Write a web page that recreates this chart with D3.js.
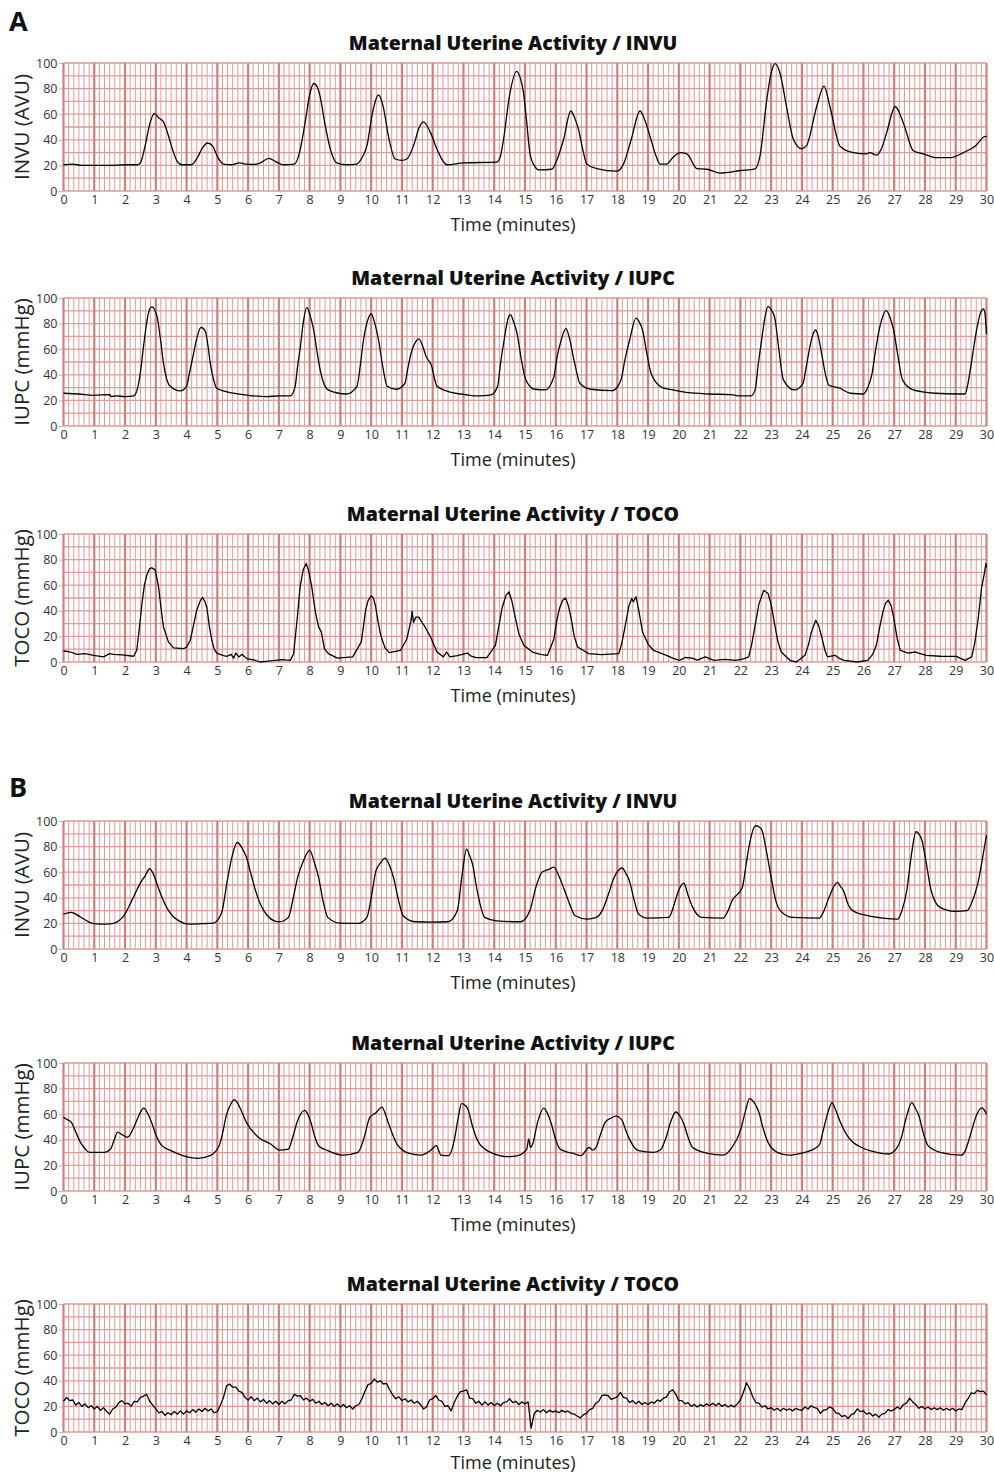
<!DOCTYPE html>
<html>
<head>
<meta charset="utf-8">
<script src="https://cdn.jsdelivr.net/npm/d3@7"></script>
<style>
  body { margin: 0; background: #fff; }
  text { font-family: "Open Sans", "Noto Sans", sans-serif; }
</style>
</head>
<body>
<script>
// ---- data (minutes, value) ----

const invuA = [[0,20.5],[0.3,21],[0.6,20],[1,20],[1.5,20],[2,20.5],[2.4,20.5],[2.5,22],[2.65,35],[2.8,52],[2.95,60.5],[3.1,57],[3.25,54],[3.4,44],[3.55,32],[3.7,23],[3.85,20.5],[4.15,20.5],[4.35,26],[4.5,33],[4.68,37.5],[4.85,35],[5.0,27],[5.2,21],[5.45,20.5],[5.72,22],[5.95,21],[6.18,20.7],[6.4,22],[6.67,25.5],[6.9,23],[7.15,20.5],[7.5,21],[7.65,28],[7.85,53],[8.0,75],[8.13,84],[8.25,81],[8.34,74],[8.5,52],[8.67,33],[8.88,22],[9.2,20.5],[9.53,21],[9.7,26],[9.86,35],[10.05,62],[10.24,75],[10.4,65],[10.56,43],[10.78,25],[11.0,24],[11.16,25],[11.4,37],[11.55,49],[11.7,54],[11.92,46],[12.15,32],[12.46,20.5],[13.0,22],[14.08,22.5],[14.2,27],[14.3,40],[14.5,75],[14.73,93.5],[14.85,88],[14.95,77],[15.05,55],[15.17,28],[15.3,20],[15.44,16.5],[15.87,17],[16.05,25],[16.25,40],[16.49,62.5],[16.6,58],[16.74,48],[16.9,30],[17.01,21],[17.33,17.5],[17.98,15.5],[18.2,21],[18.45,40],[18.74,62.5],[18.9,55],[19.06,43],[19.25,28],[19.39,21],[19.6,21],[19.8,26],[20.04,30],[20.26,29],[20.59,17.5],[20.91,17],[21.35,14],[22.0,16],[22.48,17.3],[22.64,27.6],[22.86,71.6],[23.0,92],[23.13,99.5],[23.29,92],[23.5,66],[23.72,40.6],[23.99,33],[24.15,35.4],[24.48,66],[24.72,82],[24.91,66],[25.24,35],[25.67,30],[26.11,29],[26.2,30],[26.43,28],[26.6,34],[26.76,46],[27.03,66],[27.3,53],[27.62,31.5],[27.95,29],[28.38,26],[28.82,26],[29.25,30],[29.63,35],[29.96,42.6],[30,42]];

const iupcA = [[0,25.6],[0.5,25],[0.98,24],[1.5,24.5],[1.55,23],[1.7,23.5],[2.0,23],[2.28,23.5],[2.39,28],[2.5,42],[2.6,62],[2.75,87],[2.87,93],[3.04,85.6],[3.15,68],[3.25,49],[3.35,37],[3.47,31],[3.79,27.4],[4.0,31],[4.1,42],[4.23,57],[4.35,70],[4.47,77],[4.61,74],[4.7,62],[4.77,49],[4.88,36],[4.98,29.5],[5.53,25.6],[6.0,24],[6.6,23],[7.0,23.5],[7.37,23.5],[7.53,31],[7.6,45],[7.7,62],[7.8,82],[7.91,92.7],[8.02,86],[8.13,75],[8.24,58],[8.34,44],[8.45,34],[8.62,28],[9.19,25],[9.54,31],[9.65,48],[9.75,67],[9.88,82],[10.0,87.7],[10.12,80],[10.24,67],[10.38,46],[10.52,31],[10.81,28.7],[11.09,33],[11.2,46],[11.3,57],[11.45,66],[11.55,68],[11.68,62],[11.79,54],[11.97,46.5],[12.05,38],[12.14,31],[12.42,27.7],[13.13,24.3],[13.5,23.5],[13.9,24.3],[14.11,31],[14.2,48],[14.32,67],[14.45,84],[14.53,87],[14.62,82],[14.74,72.6],[14.88,52],[15.03,36],[15.31,28.7],[15.66,28.2],[15.94,38.6],[16.05,55],[16.15,64.8],[16.33,76],[16.45,68],[16.57,54],[16.68,42],[16.78,33.4],[17.14,28.7],[17.84,27.7],[18.12,36],[18.25,52],[18.4,67],[18.61,84.3],[18.72,81],[18.82,75],[18.95,58],[19.1,41],[19.46,30],[19.81,28.2],[20.3,26],[21.0,25],[21.7,24.5],[22.0,23.5],[22.34,23.5],[22.48,28.2],[22.58,48],[22.69,67],[22.8,85],[22.9,93.5],[23.0,91],[23.12,84.3],[23.25,60],[23.4,36],[23.75,28.2],[24.03,33],[24.14,46],[24.24,59.5],[24.35,71],[24.45,75],[24.55,68],[24.66,54],[24.77,40],[24.87,32],[25.23,29.5],[25.58,25.6],[26.0,25],[26.14,30],[26.28,41],[26.4,60],[26.49,72.6],[26.62,85],[26.74,90.3],[26.86,85],[26.98,75],[27.12,55],[27.27,36],[27.62,28.2],[28.32,25.6],[29.1,25],[29.3,25],[29.38,31],[29.5,48],[29.66,72.6],[29.8,88],[29.9,91.5],[29.95,88],[30,72]];

const tocoA = [[0,8.6],[0.2,8],[0.44,6],[0.7,6.5],[0.98,5.2],[1.3,4],[1.5,6.5],[1.63,6],[1.9,5.5],[2.28,4.5],[2.38,9],[2.46,25],[2.55,45.7],[2.63,60],[2.71,68],[2.8,73],[2.87,73.5],[2.98,72],[3.09,58.7],[3.17,42],[3.25,27.4],[3.41,15.7],[3.58,11],[3.9,10.4],[4.0,11.5],[4.12,17],[4.22,28],[4.33,40.5],[4.45,48],[4.52,50.4],[4.6,47],[4.66,42.6],[4.74,28],[4.82,17],[4.9,10],[4.98,7],[5.2,5],[5.31,4.4],[5.45,6],[5.53,3],[5.6,7],[5.7,4],[5.8,6],[5.96,2.6],[6.2,1.5],[6.39,0],[6.6,0.5],[6.82,1],[7.1,1.8],[7.37,1.3],[7.48,6.5],[7.6,35],[7.69,58.7],[7.79,72],[7.89,77],[7.97,71],[8.07,58.7],[8.18,40],[8.29,27.4],[8.38,23.5],[8.48,10.4],[8.61,6.5],[8.9,3],[9.4,4],[9.68,15.7],[9.82,40.5],[9.9,48],[10.0,51.7],[10.07,50],[10.14,44],[10.22,32],[10.31,21],[10.45,11],[10.59,7.3],[10.95,9],[11.16,18],[11.3,33],[11.33,39.7],[11.38,31],[11.45,35],[11.55,35],[11.65,31],[11.72,28.7],[11.93,19.6],[12.14,7.8],[12.35,4],[12.45,7.8],[12.56,4],[12.8,5],[13.13,7],[13.25,4.5],[13.41,3.4],[13.76,3.4],[14.04,13],[14.15,28],[14.25,41.8],[14.38,52],[14.48,54.8],[14.57,48],[14.67,36.5],[14.8,22],[14.96,13],[15.24,7.8],[15.5,6],[15.73,5.2],[15.94,18],[16.03,32],[16.12,41.8],[16.22,48],[16.32,50],[16.41,44],[16.5,34],[16.6,20],[16.71,11.7],[17.07,6.5],[17.49,5.7],[18.05,6.5],[18.15,15],[18.26,28.7],[18.38,44],[18.47,49.6],[18.52,47],[18.61,51],[18.7,40],[18.82,23.5],[19.0,14],[19.18,9],[19.6,5.2],[19.8,3],[20.02,1.3],[20.2,3.5],[20.44,3],[20.6,1.5],[20.86,4],[21.14,1.3],[21.5,2],[21.85,1.3],[22.1,2.5],[22.27,4],[22.37,14],[22.48,28.7],[22.6,45],[22.76,56],[22.9,53.5],[23.0,45],[23.12,28.7],[23.22,16],[23.33,7.8],[23.61,1.3],[23.82,0],[24.1,5.2],[24.22,14],[24.31,23.5],[24.45,32.6],[24.55,28],[24.66,18],[24.75,9],[24.83,4],[25.08,5.2],[25.2,3],[25.37,1.3],[25.79,0],[26.14,1.3],[26.3,6],[26.42,13],[26.52,26],[26.63,39],[26.72,46],[26.81,48.3],[26.9,44],[26.98,35],[27.1,18],[27.2,9],[27.45,7],[27.69,7.8],[28.04,5.2],[28.5,4.5],[29.02,4.4],[29.3,1.3],[29.52,4],[29.62,15],[29.73,34],[29.84,58],[29.94,70.5],[29.98,77],[30,74]];

const invuB = [[0,27.3],[0.25,28.6],[0.55,25],[0.94,20],[1.2,19.4],[1.53,19.6],[1.92,24.7],[2.22,37.8],[2.4,47],[2.51,52],[2.65,57],[2.8,62.7],[2.94,57.5],[3.05,50],[3.2,40.4],[3.49,27.3],[3.75,22],[4.08,19.4],[4.5,19.8],[4.86,20.2],[5.05,24],[5.16,30],[5.3,50],[5.45,69.3],[5.65,83.2],[5.8,79],[5.94,72],[6.1,58],[6.24,45.7],[6.4,35],[6.63,26],[6.85,22],[7.02,21.3],[7.31,24.7],[7.45,38],[7.61,56],[7.8,69],[8.0,77],[8.15,68],[8.29,56],[8.45,36],[8.59,24.7],[8.98,20.2],[9.57,20],[9.86,24.7],[10.0,40],[10.16,61.4],[10.3,67],[10.45,71],[10.6,65],[10.75,53.5],[10.9,37],[11.04,26],[11.43,21.3],[12.0,21],[12.51,21.3],[12.8,30],[12.95,57],[13.1,78],[13.2,73],[13.29,66.7],[13.45,45],[13.69,24.7],[14.08,22],[14.86,21.3],[15.16,30],[15.35,48],[15.55,60],[15.75,62],[15.94,64],[16.1,57],[16.33,43],[16.5,32],[16.63,26],[17.02,23.4],[17.3,24.5],[17.51,30],[17.7,42],[17.9,56],[18.16,63.3],[18.28,59],[18.39,53.5],[18.55,38],[18.69,27.3],[18.98,24.1],[19.67,24.7],[19.85,35],[19.96,43.6],[20.16,51.4],[20.3,42],[20.45,32.5],[20.75,24.7],[21.43,24.1],[21.6,30],[21.73,37.8],[22.06,47.8],[22.2,68],[22.3,82.4],[22.5,96.3],[22.6,95.5],[22.7,93],[22.85,76],[23.0,56],[23.15,38],[23.3,30],[23.69,24.7],[24.57,24.1],[24.72,30],[24.86,39],[25.16,52],[25.25,49],[25.35,45.7],[25.5,35],[25.65,30],[26.14,26],[26.63,24.1],[27.12,23.4],[27.25,30],[27.41,45.7],[27.55,72],[27.71,91.6],[27.8,90],[27.9,85],[28.05,66],[28.2,45.7],[28.49,32.5],[28.98,29.4],[29.37,30],[29.55,38],[29.76,56],[29.9,75],[30,89]];

const iupcB = [[0,57.7],[0.1,56],[0.25,53.8],[0.4,46],[0.55,38],[0.7,33],[0.84,30.2],[1.33,30.2],[1.53,32.8],[1.65,40],[1.76,46],[1.9,44],[2.08,42],[2.31,51],[2.45,59],[2.61,64.8],[2.75,60],[2.86,53.8],[3.0,44],[3.2,35.4],[3.49,31.5],[3.88,27.6],[4.37,25.5],[4.76,27.6],[5.06,35.4],[5.18,46],[5.29,59],[5.42,67],[5.55,71.4],[5.65,69],[5.75,64.3],[5.94,53.8],[6.33,42],[6.73,36.7],[7.02,32],[7.31,32.8],[7.45,42],[7.61,55],[7.84,63],[7.94,60],[8.04,53.8],[8.15,44],[8.29,35.4],[8.59,31.5],[9.08,28],[9.57,30.2],[9.75,40],[9.96,57.7],[10.15,61],[10.35,65.6],[10.45,61],[10.55,53.8],[10.7,44],[10.84,36.7],[11.24,29.4],[11.63,28],[11.92,31.5],[12.12,35.4],[12.27,28],[12.51,27.6],[12.71,40.7],[12.82,56],[12.94,68.2],[13.05,67],[13.14,64.3],[13.3,50],[13.49,38],[13.88,30.2],[14.47,26.8],[14.76,27.6],[15.06,32.8],[15.12,40.7],[15.18,34],[15.25,36.7],[15.41,53.8],[15.61,64.8],[15.72,61],[15.84,53.8],[16.0,40],[16.14,32.8],[16.63,28.9],[16.82,27.6],[17.08,34],[17.2,32],[17.31,34],[17.45,44],[17.61,53.8],[17.8,57],[17.96,58.5],[18.16,55],[18.28,47],[18.39,40.7],[18.69,31.5],[19.18,30.2],[19.4,32],[19.57,40.7],[19.75,55],[19.9,61.7],[20.05,58],[20.16,52.5],[20.3,42],[20.45,34],[20.94,29.4],[21.43,28],[21.73,34],[22.02,48.5],[22.16,62],[22.3,72.2],[22.45,69],[22.6,61.7],[22.75,48],[22.9,38],[23.2,30.2],[23.59,28],[23.9,29],[24.27,31.5],[24.57,36],[24.66,44],[24.76,53.8],[24.88,64],[24.98,69],[25.1,63],[25.25,53.8],[25.55,40.7],[25.94,34],[26.43,30.2],[26.82,28.9],[27.0,31],[27.22,40.7],[27.4,58],[27.57,69],[27.68,65],[27.8,59],[27.95,45],[28.1,35.4],[28.49,30.2],[29.18,28],[29.3,31],[29.47,43.3],[29.67,59],[29.85,65],[29.96,62],[30,60]];

// B / TOCO is noisy: one value every 0.1 min, 0..30
const tocoBStep = 0.1;
const tocoBValues = [
  24,27,24.5,25,21,23,20,22,19,20.5,
  18,20,17,19,16,14,18,19.5,23,24.5,
  22,22.5,20,24,23.5,27,28,29.5,24,21,
  18,15,16,13,15,13.5,16,14,16.5,14,
  16.5,15,17.5,15.5,18,16,18.5,16.5,18,15,
  16,21,27,36,37.5,35,35,32,31,27,
  25,27.5,24.5,26.5,23.5,25.5,22.5,24.5,22,24,
  21.5,24,22,24.5,25,29.5,28,28.5,25,26.5,
  24,25.5,22.5,24,21.5,23,20.5,22.5,20,22,
  19.5,21.5,19,20.5,18,20.5,21.5,26,32,37,
  38,41.5,39,40,37.5,38,33,29,26,27.5,
  24.5,26,23.5,25,22.5,24,21.5,18,19.5,25,
  26,28.5,25,24,20,20.5,16.5,23,28,31.5,
  32,33,26.5,26,22.5,24,21,23.5,21,23,
  20.5,22.5,20.5,23,23.5,26,23,24,21.5,23.5,
  22,23.5,3,14.5,17,15.5,17.5,15,17,15.5,
  16.5,15,17,15.5,16.5,14.5,14,12.5,11,13.5,
  14.5,17.5,18.5,22.5,24,28.5,29,28.5,25.5,26.5,
  27.5,31,27,26.5,23,24.5,22,24,21.5,23,
  21.5,23.5,22.5,25,24,26.5,27.5,31.5,33,29.5,
  24.5,24.5,22,23,20,21.5,19.5,21.5,20,22,
  20.5,22.5,20.5,22.5,20,21.5,19.5,21,19.5,22,
  25,31,38.5,34,27.5,23,22.5,19.5,20.5,18,
  19,17,18.5,16.5,18.5,17,18,16.5,18.5,17.5,
  17,19.5,18,20.5,19,18.5,14.5,17,17.5,19.5,
  18.5,15,14.5,12,13,10.5,13.5,14.5,18,16,
  16.5,14,15,12.5,14,11.5,14,14.5,17.5,16.5,
  17.5,19.5,18,21.5,22.5,26.5,23.5,21.5,18.5,20,
  18,19.5,17.5,19,17.5,19,17,18.5,17,18.5,
  16.5,18,17.5,22.5,26,30.5,30,32.5,31.5,32,
  29
];
const tocoB = tocoBValues.map((v, i) => [i * tocoBStep, v]);

const yTicks = [0, 20, 40, 60, 80, 100];
const xTicks = d3.range(0, 31);

const panels = [
  { top: 63,   title: "Maternal Uterine Activity / INVU", ylab: "INVU (AVU)",  data: invuA, smooth: true },
  { top: 298,  title: "Maternal Uterine Activity / IUPC", ylab: "IUPC (mmHg)", data: iupcA, smooth: true },
  { top: 534,  title: "Maternal Uterine Activity / TOCO", ylab: "TOCO (mmHg)", data: tocoA, smooth: false },
  { top: 821,  title: "Maternal Uterine Activity / INVU", ylab: "INVU (AVU)",  data: invuB, smooth: true },
  { top: 1063, title: "Maternal Uterine Activity / IUPC", ylab: "IUPC (mmHg)", data: iupcB, smooth: true },
  { top: 1304, title: "Maternal Uterine Activity / TOCO", ylab: "TOCO (mmHg)", data: tocoB, smooth: false }
];

// ---- drawing ----
const W = 994, H = 1475, plotH = 128;

const svg = d3.select("body").append("svg")
    .attr("width", W)
    .attr("height", H)
    .style("display", "block");

svg.append("rect").attr("width", W).attr("height", H).attr("fill", "#fff");

const x = d3.scaleLinear().domain([0, 30]).range([63.5, 986.5]);

svg.append("text").attr("x", 9).attr("y", 31)
    .attr("font-size", 27).attr("font-weight", 700).attr("fill", "#111").text("A");
svg.append("text").attr("x", 9).attr("y", 797)
    .attr("font-size", 27).attr("font-weight", 700).attr("fill", "#111").text("B");

panels.forEach(p => {
  const y = d3.scaleLinear().domain([0, 100]).range([p.top + plotH, p.top]);
  const g = svg.append("g");

  // axis labels first, paper grid drawn over the tick lines
  g.append("g")
      .attr("transform", `translate(0,${p.top + plotH})`)
      .call(d3.axisBottom(x).tickValues(xTicks).tickSize(0).tickPadding(4).tickFormat(d3.format("d")))
      .call(a => a.select(".domain").remove())
      .call(a => a.selectAll("text").attr("font-size", 12.5).attr("fill", "#333")
          .attr("font-family", "'Open Sans', sans-serif"));

  g.append("g")
      .attr("transform", `translate(${x(0)},0)`)
      .call(d3.axisLeft(y).tickValues(yTicks).tickSize(5).tickPadding(1))
      .call(a => a.select(".domain").remove())
      .call(a => a.selectAll("line").attr("stroke", "#bbb"))
      .call(a => a.selectAll("text").attr("font-size", 12.5).attr("fill", "#333")
          .attr("font-family", "'Open Sans', sans-serif"));

  // chart paper: 10 s verticals, 10-unit horizontals, minute lines
  const minor = d3.range(0, 181).filter(i => i % 6 !== 0).map(i => i / 6);
  g.selectAll(".vminor").data(minor).join("line")
      .attr("x1", d => x(d)).attr("x2", d => x(d))
      .attr("y1", y(0)).attr("y2", y(100))
      .attr("stroke", "#df9a97").attr("stroke-width", 1);
  g.selectAll(".hgrid").data(d3.range(0, 101, 10)).join("line")
      .attr("x1", x(0)).attr("x2", x(30))
      .attr("y1", d => y(d)).attr("y2", d => y(d))
      .attr("stroke", "#df9a97").attr("stroke-width", 1.3);
  g.selectAll(".vmajor").data(xTicks).join("line")
      .attr("x1", d => x(d)).attr("x2", d => x(d))
      .attr("y1", y(0)).attr("y2", y(100))
      .attr("stroke", "#d07f7c").attr("stroke-width", 2.2);

  const line = d3.line()
      .x(d => x(d[0]))
      .y(d => y(d[1]))
      .curve(p.smooth ? d3.curveMonotoneX : d3.curveLinear);

  g.append("path")
      .attr("d", line(p.data))
      .attr("fill", "none")
      .attr("stroke", "#000")
      .attr("stroke-width", 1.3)
      .attr("stroke-linejoin", "round");

  g.append("text")
      .attr("x", 513).attr("y", p.top - 13)
      .attr("text-anchor", "middle")
      .attr("font-size", 19.5).attr("font-weight", 800).attr("fill", "#111")
      .text(p.title);

  g.append("text")
      .attr("x", 513).attr("y", Math.min(p.top + plotH + 40, H - 6))
      .attr("text-anchor", "middle")
      .attr("font-size", 18).attr("fill", "#222")
      .text("Time (minutes)");

  g.append("text")
      .attr("transform", `translate(29,${p.top + plotH / 2}) rotate(-90)`)
      .attr("text-anchor", "middle")
      .attr("font-size", 20.5).attr("fill", "#222")
      .text(p.ylab);
});
</script>
</body>
</html>
